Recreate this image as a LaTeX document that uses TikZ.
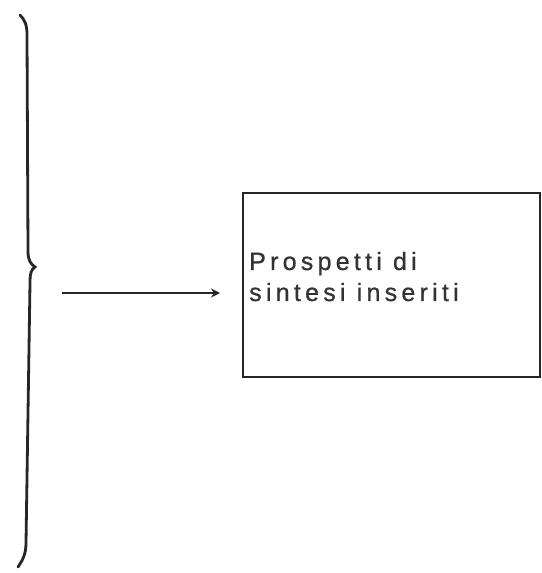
\documentclass[tikz,border=0pt]{standalone}
\usepackage{fontspec}
\setmainfont{Liberation Sans}
\newfontfamily\boxfont[LetterSpace=17,FakeBold=0.8]{Liberation Sans}
\usetikzlibrary{arrows.meta}
\begin{document}
\begin{tikzpicture}[x=1pt,y=1pt,
  bracestyle/.style={line width=2.8pt,draw=black!85,line cap=round},
  boxstyle/.style={draw=black!85,line width=2.2pt,minimum width=297pt,minimum height=184pt,inner sep=0pt,anchor=north west},
  labelstyle/.style={font={\fontsize{25pt}{31pt}\selectfont\boxfont},text=black!80,align=left,inner sep=0pt,anchor=base west},
  arrowstyle/.style={line width=2.5pt,draw=black!85,-{Stealth[length=9pt,width=9pt]}}]
\useasboundingbox (0,0) rectangle (541,573);
% brace
\draw[bracestyle] (20,558) .. controls (25,553) and (27,548) .. (27,538)
  -- (28,322) .. controls (28,312) and (31,309) .. (35,306)
  .. controls (31,303) and (30,300) .. (30,290)
  -- (26,30) .. controls (26,18) and (22,12) .. (18,6);
% box and text
\node[boxstyle] (box) at (242,381) {};
\node[labelstyle] (label) at (249,272) {Prospetti di\\sintesi inseriti};
% arrow
\coordinate (start) at (62,280);
\coordinate (arrowend) at (220,280);
\draw[arrowstyle] (start) -- (arrowend);
\end{tikzpicture}
\end{document}
